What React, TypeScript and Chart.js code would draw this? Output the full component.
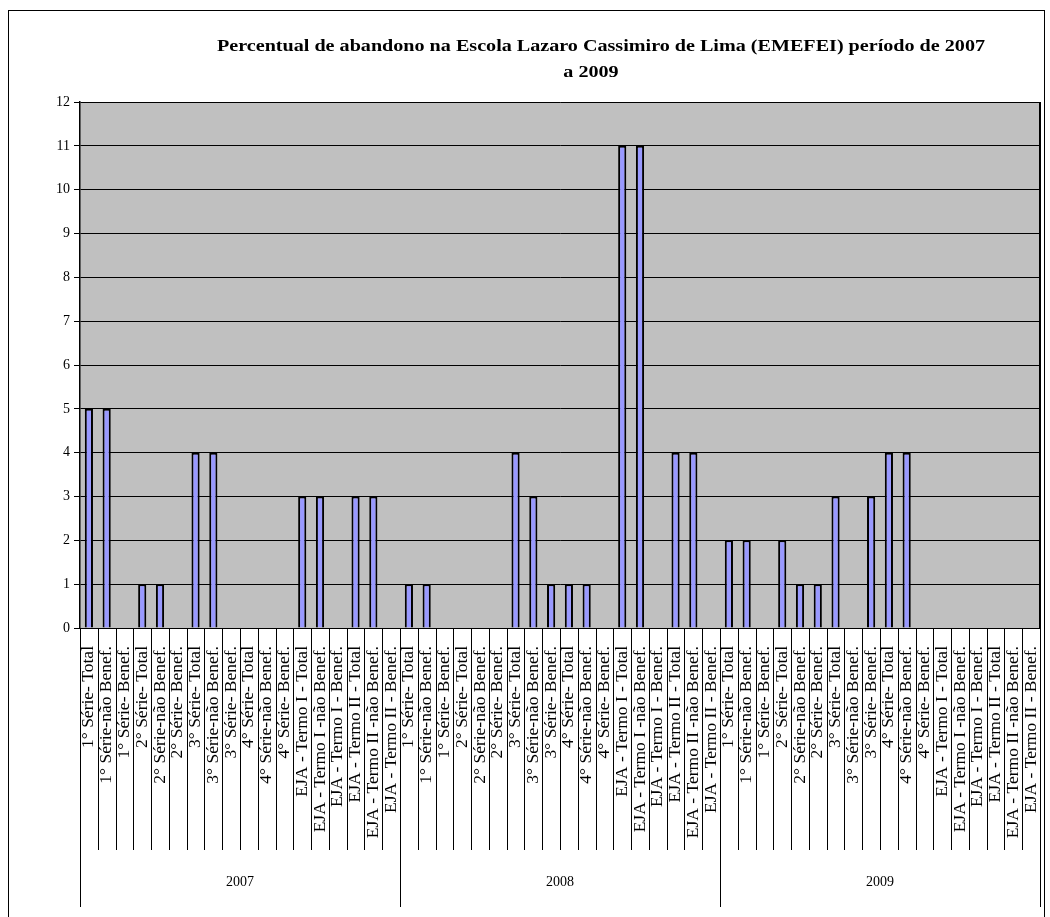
import React, { useEffect, useRef } from "react";
import { Chart, registerables } from "chart.js";

Chart.register(...registerables);

const titleLines = [
  "Percentual de abandono na Escola Lazaro Cassimiro de Lima (EMEFEI) período de 2007",
  "a 2009",
];
const years = ["2007", "2008", "2009"];
const categories = [
  "1° Série- Total",
  "1° Série-não Benef.",
  "1° Série- Benef.",
  "2° Série- Total",
  "2° Série-não Benef.",
  "2° Série- Benef.",
  "3° Série- Total",
  "3° Série-não Benef.",
  "3° Série- Benef.",
  "4° Série- Total",
  "4° Série-não Benef.",
  "4° Série- Benef.",
  "EJA - Termo I - Total",
  "EJA - Termo I -não Benef.",
  "EJA - Termo I - Benef.",
  "EJA - Termo II - Total",
  "EJA - Termo II -não Benef.",
  "EJA - Termo II - Benef.",
];
const values2007 = [5, 5, 0, 1, 1, 0, 4, 4, 0, 0, 0, 0, 3, 3, 0, 3, 3, 0];
const values2008 = [1, 1, 0, 0, 0, 0, 4, 3, 1, 1, 1, 0, 11, 11, 0, 4, 4, 0];
const values2009 = [2, 2, 0, 2, 1, 1, 3, 0, 3, 4, 4, 0, 0, 0, 0, 0, 0, 0];
const yTicks = [0, 1, 2, 3, 4, 5, 6, 7, 8, 9, 10, 11, 12];

const SERIF = '"Liberation Serif", "Times New Roman", serif';

export default function App() {
  const ref = useRef<HTMLCanvasElement | null>(null);

  useEffect(() => {
    if (!ref.current) return;
    const labels = years.flatMap(() => categories);
    const data = [...values2007, ...values2008, ...values2009];

    const framePlugin = {
      id: "framePlugin",
      beforeDraw(chart: any) {
        const { ctx, chartArea: a, width, height } = chart;
        ctx.save();
        ctx.fillStyle = "#ffffff";
        ctx.fillRect(0, 0, width, height);
        ctx.strokeStyle = "#000";
        ctx.lineWidth = 1;
        ctx.strokeRect(8.5, 10.5, 1036, 940);
        ctx.fillStyle = "#C0C0C0";
        ctx.fillRect(a.left, a.top, a.right - a.left, a.bottom - a.top);
        // title
        ctx.fillStyle = "#000";
        ctx.font = `bold 16px ${SERIF}`;
        const w1 = ctx.measureText(titleLines[0]).width;
        const sx = 768 / w1;
        ctx.translate(601, 51);
        ctx.scale(sx, 1);
        ctx.textAlign = "center";
        ctx.textBaseline = "alphabetic";
        ctx.fillText(titleLines[0], 0, 0);
        ctx.fillText(titleLines[1], -10 / sx, 26);
        ctx.restore();
      },
      afterDraw(chart: any) {
        const { ctx, chartArea: a } = chart;
        const xs = chart.scales.x;
        const n = labels.length;
        const step = (xs.right - xs.left) / n;
        ctx.save();
        ctx.strokeStyle = "#000";
        ctx.lineWidth = 1;
        ctx.beginPath();
        for (let i = 0; i <= n; i++) {
          const x = Math.round(xs.left + i * step) + 0.5;
          const y2 = i % categories.length === 0 ? 907 : 850;
          ctx.moveTo(x, a.bottom);
          ctx.lineTo(x, y2);
        }
        ctx.stroke();
        ctx.lineWidth = 2;
        ctx.beginPath();
        ctx.moveTo(a.right, a.top);
        ctx.lineTo(a.right, a.bottom);
        ctx.stroke();
        ctx.fillStyle = "#000";
        ctx.font = `14px ${SERIF}`;
        ctx.textAlign = "center";
        ctx.textBaseline = "middle";
        years.forEach((y, g) => {
          const cx = xs.left + (g + 0.5) * categories.length * step;
          ctx.fillText(y, cx, 882);
        });
        ctx.restore();
      },
    };

    const chart = new Chart(ref.current, {
      type: "bar",
      data: {
        labels,
        datasets: [
          {
            label: "Percentual de abandono",
            data,
            backgroundColor: "#9999FF",
            borderColor: "#000000",
            borderWidth: 2,
            barPercentage: 0.46,
            categoryPercentage: 1,
          },
        ],
      },
      options: {
        responsive: false,
        animation: false,
        layout: { padding: { left: 10, right: 10, top: 102, bottom: 10 } },
        plugins: {
          legend: { display: false },
          title: { display: false },
          tooltip: { enabled: false },
        },
        scales: {
          x: {
            grid: { display: false, drawTicks: false },
            border: { display: false },
            ticks: {
              autoSkip: false,
              minRotation: 90,
              maxRotation: 90,
              padding: 18,
              color: "#000",
              font: { family: SERIF, size: 17.5 },
            },
            afterFit(scale: any) {
              scale.height = 279;
              scale.paddingLeft = 0;
              scale.paddingRight = 0;
            },
          },
          y: {
            min: 0,
            max: 12,
            afterBuildTicks(scale: any) {
              scale.ticks = yTicks.map((v) => ({ value: v }));
            },
            grid: { color: "#000", lineWidth: 1, tickLength: 6, drawTicks: true },
            border: { color: "#000", width: 1.5 },
            ticks: {
              padding: 4,
              color: "#000",
              font: { family: SERIF, size: 14 },
            },
            afterFit(scale: any) {
              scale.width = 70;
              scale.paddingTop = 0;
              scale.paddingBottom = 0;
            },
          },
        },
      },
      plugins: [framePlugin],
    });
    return () => chart.destroy();
  }, []);

  return (
    <div style={{ position: "absolute", left: 0, top: 0, width: 1050, height: 917 }}>
      <canvas ref={ref} width={1050} height={917} />
    </div>
  );
}
